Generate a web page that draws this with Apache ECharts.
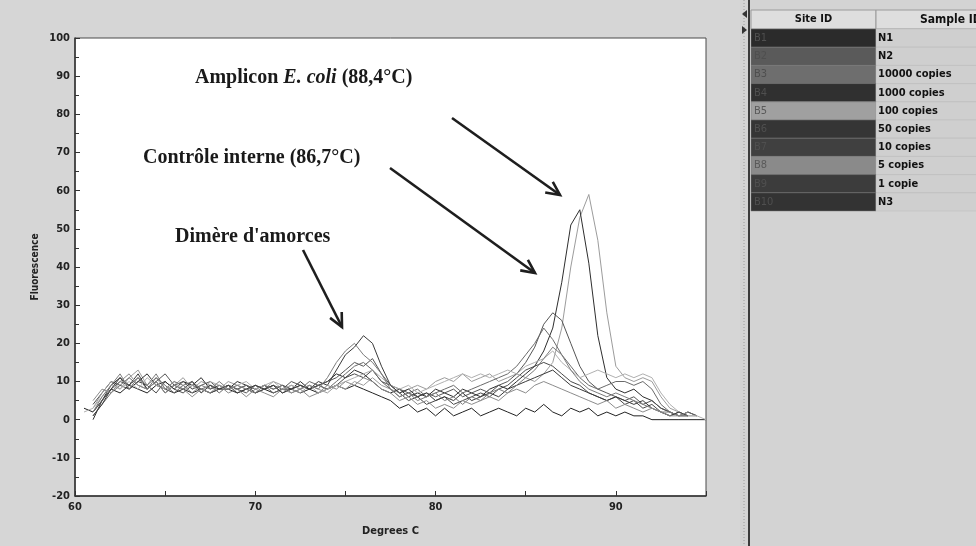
<!DOCTYPE html>
<html>
<head>
<meta charset="utf-8">
<script src="https://cdn.jsdelivr.net/npm/echarts@6/dist/echarts.min.js"></script>
<style>
html,body{margin:0;padding:0;background:#d6d6d6;}
#chart{width:976px;height:546px;}
</style>
</head>
<body>
<div id="chart"></div>
<script>
// Temperatures (°C)
const temps = [60.5,61,61.5,62,62.5,63,63.5,64,64.5,65,
  65.5,66,66.5,67,67.5,68,68.5,69,69.5,70,
  70.5,71,71.5,72,72.5,73,73.5,74,74.5,75,
  75.5,76,76.5,77,77.5,78,78.5,79,79.5,80,
  80.5,81,81.5,82,82.5,83,83.5,84,84.5,85,
  85.5,86,86.5,87,87.5,88,88.5,89,89.5,90,
  90.5,91,91.5,92,92.5,93,93.5,94,94.5,95];

const siteIds = ['B1','B2','B3','B4','B5','B6','B7','B8','B9','B10'];
const sampleIds = ['N1','N2','10000 copies','1000 copies','100 copies','50 copies','10 copies','5 copies','1 copie','N3'];

// Fluorescence (-dF/dT)
const fluoB1 = [3,2,5,8,7,9,8,7,9,8, 7,8,7,8,7,8,8,7,8,7, 8,7,8,8,7,8,7,8,9,8,
  9,8,7,6,5,3,4,2,3,1, 3,1,2,3,1,2,3,2,1,3, 2,4,2,1,3,2,3,1,2,1, 2,1,1,0,0,0,0,0,0,0];
const fluoB2 = [null,4,7,10,9,8,10,9,7,10, 8,7,9,8,7,8,9,8,9,7, 8,9,7,8,9,8,9,8,9,11,
  12,11,13,10,9,7,5,6,4,5, 6,4,5,6,7,6,8,9,11,13, 14,15,14,12,10,9,7,6,5,6, 4,5,3,4,2,1,2,1,null,null];
const fluoB3 = [null,3,7,10,8,11,13,9,11,8, 9,11,8,10,9,8,10,9,8,9, 8,10,9,8,7,9,8,7,9,8,
  10,9,11,9,8,7,8,9,8,10, 11,10,12,10,11,12,10,11,12,11, 10,12,15,24,40,53,59,47,28,14, 11,10,11,10,6,3,2,1,1,null];
const fluoB4 = [null,0,5,9,11,8,10,12,9,10, 8,10,9,11,8,9,8,10,9,8, 9,8,9,8,10,8,9,10,12,11,
  13,12,10,8,7,8,6,7,6,8, 7,6,8,7,6,8,9,8,10,12, 14,18,24,36,51,55,41,22,11,8, 7,8,6,5,3,2,1,2,1,null];
const fluoB5 = [null,2,5,8,10,9,11,8,10,12, 9,10,8,9,10,8,9,8,7,9, 8,9,8,10,9,8,9,10,11,13,
  15,14,16,12,9,8,7,6,7,6, 7,8,6,7,8,7,9,10,12,15, 19,25,28,26,20,14,10,8,7,6, 5,6,4,5,3,2,1,1,null,null];
const fluoB6 = [null,1,4,7,9,11,9,8,11,9, 7,9,10,8,9,7,9,8,9,8, 9,7,8,9,8,10,9,8,10,12,
  14,15,13,10,8,6,7,8,6,7, 8,9,7,8,9,10,11,12,14,17, 20,24,21,17,14,11,9,8,9,10, 10,9,10,8,4,2,1,2,1,null];
const fluoB7 = [2,3,6,9,8,10,8,11,9,8, 10,8,9,7,10,9,8,9,10,8, 9,10,8,9,8,9,7,8,9,10,
  11,12,13,11,9,8,9,7,8,9, 10,11,12,11,12,11,12,13,12,14, 15,16,18,15,13,11,12,13,12,11, 12,11,12,11,7,4,2,1,1,0];
const fluoB8 = [null,1,4,8,11,9,12,8,10,7, 9,8,10,7,9,8,9,7,8,9, 8,9,7,8,9,8,10,9,13,17,
  19,22,20,14,9,7,8,6,7,5, 6,5,7,5,6,7,6,8,9,10, 11,12,13,11,9,8,7,6,5,6, 5,4,5,3,2,1,2,1,null,null];
const fluoB9 = [null,2,6,9,12,8,11,9,12,8, 10,9,7,9,8,10,8,9,8,7, 9,8,9,7,8,9,8,11,15,18,
  20,17,15,12,8,6,7,5,6,7, 5,6,4,6,5,7,8,7,9,11, 13,16,19,17,13,10,8,7,6,7, 6,5,4,3,2,2,1,1,null,null];
const fluoB10 = [null,5,8,7,10,12,9,8,10,7, 9,8,6,8,7,9,7,8,6,8, 7,6,8,7,8,6,7,9,8,10,
  9,11,10,8,7,5,6,4,5,3, 4,3,5,4,5,6,5,7,8,7, 9,10,9,8,7,6,5,4,5,3, 4,3,2,3,2,1,1,2,null,null];

const fluoAll = [fluoB1,fluoB2,fluoB3,fluoB4,fluoB5,fluoB6,fluoB7,fluoB8,fluoB9,fluoB10];
const lineColors = ['#222222','#4a4a4a','#9c9c9c','#2e2e2e','#555555','#6a6a6a','#b0b0b0','#3a3a3a','#7c7c7c','#8c8c8c'];
const cellColors = ['#2b2b2b','#5a5a5a','#6e6e6e','#303030','#a0a0a0','#353535','#404040','#8a8a8a','#3c3c3c','#333333'];

const tickFont = "'Liberation Sans Narrow','DejaVu Sans Condensed','Liberation Sans',sans-serif";
const serif = "'Liberation Serif','DejaVu Serif',serif";

const series = fluoAll.map((vals, k) => ({
  name: sampleIds[k],
  type: 'line',
  showSymbol: false,
  symbol: 'none',
  lineStyle: {width: 1, color: lineColors[k]},
  data: temps.map((t, i) => [t, vals[i]]).filter(p => p[1] !== null),
  z: 3
}));

function arrow(x1, y1, x2, y2) {
  const ang = Math.atan2(y2 - y1, x2 - x1);
  const L = 15, a = 0.45;
  const p1 = [x2 - L * Math.cos(ang - a), y2 - L * Math.sin(ang - a)];
  const p2 = [x2 - L * Math.cos(ang + a), y2 - L * Math.sin(ang + a)];
  return [
    {type: 'line', shape: {x1, y1, x2, y2}, style: {stroke: '#1e1e1e', lineWidth: 2.6}, z: 20},
    {type: 'polyline', shape: {points: [p1, [x2, y2], p2]}, style: {stroke: '#1e1e1e', lineWidth: 2.6, fill: null}, z: 20}
  ];
}

const graphics = [];
// right panel
graphics.push({type: 'rect', shape: {x: 740, y: 0, width: 236, height: 546}, style: {fill: '#d3d3d3'}, z: 0});
graphics.push({type: 'line', shape: {x1: 749, y1: 0, x2: 749, y2: 546}, style: {stroke: '#3a3a3a', lineWidth: 2}, z: 1});
graphics.push({type: 'line', shape: {x1: 744, y1: 0, x2: 744, y2: 546}, style: {stroke: '#9a9a9a', lineWidth: 1, lineDash: [1, 2]}, z: 1});
graphics.push({type: 'polygon', shape: {points: [[747, 10], [742, 14], [747, 18]]}, style: {fill: '#333'}, z: 2});
graphics.push({type: 'polygon', shape: {points: [[742, 26], [747, 30], [742, 34]]}, style: {fill: '#333'}, z: 2});
// table header
const tX = 751, col2 = 876, tTop = 10, hdrH = 19, rowH = 18.2;
graphics.push({type: 'rect', shape: {x: tX, y: tTop, width: col2 - tX, height: hdrH}, style: {fill: '#dedede', stroke: '#9a9a9a', lineWidth: 1}, z: 2});
graphics.push({type: 'rect', shape: {x: col2, y: tTop, width: 110, height: hdrH}, style: {fill: '#dedede', stroke: '#9a9a9a', lineWidth: 1}, z: 2});
graphics.push({type: 'text', x: (tX + col2) / 2, y: tTop + hdrH / 2, style: {text: 'Site ID', fill: '#111', font: "bold 11px " + tickFont, textAlign: 'center', textVerticalAlign: 'middle'}, z: 3});
graphics.push({type: 'text', x: 920, y: tTop + hdrH / 2, style: {text: 'Sample ID', fill: '#111', font: "bold 12px " + tickFont, textAlign: 'left', textVerticalAlign: 'middle'}, z: 3});
siteIds.forEach((sid, k) => {
  const y = tTop + hdrH + k * rowH;
  graphics.push({type: 'rect', shape: {x: tX, y: y, width: col2 - tX, height: rowH}, style: {fill: cellColors[k], stroke: '#777', lineWidth: 0.5}, z: 2});
  graphics.push({type: 'rect', shape: {x: col2, y: y, width: 110, height: rowH}, style: {fill: '#cfcfcf', stroke: '#b8b8b8', lineWidth: 0.5}, z: 2});
  graphics.push({type: 'text', x: tX + 3, y: y + rowH / 2, style: {text: sid, fill: k === 4 || k === 7 ? '#5a5a5a' : '#4f4f4f', font: "11px " + tickFont, textVerticalAlign: 'middle'}, z: 3});
  graphics.push({type: 'text', x: col2 + 2, y: y + rowH / 2, style: {text: sampleIds[k], fill: '#111', font: "bold 11px " + tickFont, textVerticalAlign: 'middle'}, z: 3});
});
// annotations
graphics.push({type: 'text', x: 195, y: 78, style: {rich: {n: {font: "bold 20px " + serif, fill: '#1a1a1a'}, i: {font: "italic bold 20px " + serif, fill: '#1a1a1a'}}, text: '{n|Amplicon }{i|E. coli}{n| (88,4°C)}', textVerticalAlign: 'middle'}, z: 20});
graphics.push({type: 'text', x: 143, y: 158, style: {text: 'Contrôle interne (86,7°C)', font: "bold 20px " + serif, fill: '#1a1a1a', textVerticalAlign: 'middle'}, z: 20});
graphics.push({type: 'text', x: 175, y: 237, style: {text: "Dimère d'amorces", font: "bold 20px " + serif, fill: '#1a1a1a', textVerticalAlign: 'middle'}, z: 20});
graphics.push(...arrow(452, 118, 560, 195));
graphics.push(...arrow(390, 168, 535, 273));
graphics.push(...arrow(303, 250, 342, 327));

const chart = echarts.init(document.getElementById('chart'), null, {renderer: 'canvas'});
chart.setOption({
  animation: false,
  backgroundColor: '#d6d6d6',
  grid: {left: 75, top: 38, width: 631, height: 458, show: true, backgroundColor: '#ffffff', borderColor: '#4a4a4a', borderWidth: 1},
  xAxis: {
    type: 'value', min: 60, max: 95, interval: 10,
    name: 'Degrees C', nameLocation: 'middle', nameGap: 30, nameMoveOverlap: false,
    nameTextStyle: {fontFamily: tickFont, fontWeight: 'bold', fontSize: 11, color: '#222'},
    axisLine: {show: true, onZero: false, lineStyle: {color: '#333', width: 1.5}},
    axisTick: {show: true, inside: true, length: 5, lineStyle: {color: '#333'}},
    minorTick: {show: true, splitNumber: 2, length: 5, lineStyle: {color: '#333'}},
    axisLabel: {showMaxLabel: false, fontFamily: tickFont, fontWeight: 'bold', fontSize: 11, color: '#222', margin: 6},
    splitLine: {show: false}
  },
  yAxis: {
    type: 'value', min: -20, max: 100, interval: 10,
    name: 'Fluorescence', nameLocation: 'middle', nameGap: 35, nameRotate: 90, nameMoveOverlap: false,
    nameTextStyle: {fontFamily: tickFont, fontWeight: 'bold', fontSize: 10, color: '#222'},
    axisLine: {show: true, onZero: false, lineStyle: {color: '#333', width: 1.5}},
    axisTick: {show: true, inside: true, length: 5, lineStyle: {color: '#333'}},
    minorTick: {show: true, splitNumber: 2, length: 4, lineStyle: {color: '#333'}},
    axisLabel: {fontFamily: tickFont, fontWeight: 'bold', fontSize: 11, color: '#222', margin: 5},
    splitLine: {show: false}
  },
  series: series,
  graphic: {elements: graphics}
});
</script>
</body>
</html>
